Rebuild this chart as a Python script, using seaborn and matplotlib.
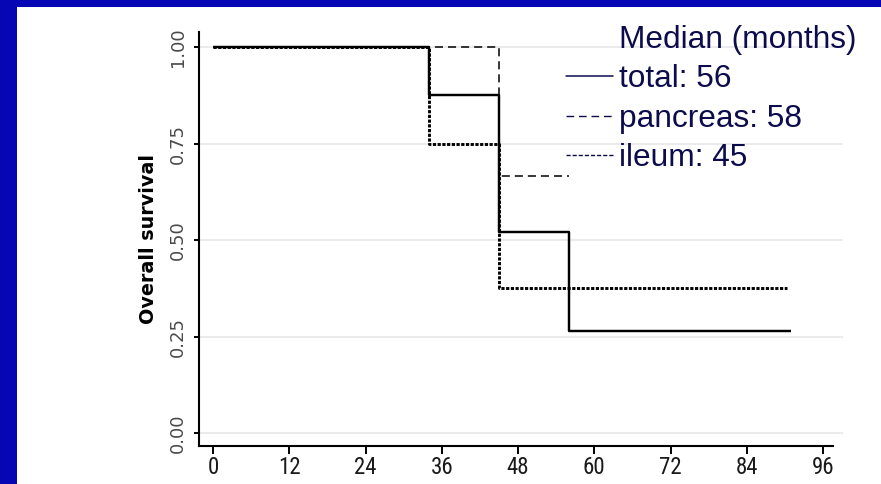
import numpy as np
import pandas as pd
import matplotlib
matplotlib.use("Agg")
import matplotlib.pyplot as plt
import seaborn as sns
from matplotlib import font_manager
from matplotlib.lines import Line2D
from matplotlib.patches import Rectangle

# ---- data ----
total_time = [0, 34, 45, 56, 91]
total_surv = [1.0, 0.875, 0.52, 0.266, 0.266]
pancreas_time = [0, 45, 56]
pancreas_surv = [1.0, 0.667, 0.667]
ileum_time = [0, 34, 45, 90.3]
ileum_surv = [1.0, 0.75, 0.375, 0.375]

x_ticks = [0, 12, 24, 36, 48, 60, 72, 84, 96]
y_ticks = [0.00, 0.25, 0.50, 0.75, 1.00]
y_tick_labels = ["0.00", "0.25", "0.50", "0.75", "1.00"]
legend_title = "Median (months)"
legend_labels = ["total: 56", "pancreas: 58", "ileum: 45"]
y_label = "Overall survival"

sns.set_theme(style="white")
names = {f.name for f in font_manager.fontManager.ttflist}
narrow = next((n for n in ["Liberation Sans Narrow", "Roboto Condensed",
                           "Open Sans Condensed", "DejaVu Sans Condensed"] if n in names),
              "Liberation Sans")
plt.rcParams["font.family"] = ["Liberation Sans", "DejaVu Sans"]
plt.rcParams["lines.scale_dashes"] = False

W, H = 881, 484
fig = plt.figure(figsize=(W / 100, H / 100), dpi=100, facecolor="#0606b4")
fig.patches.append(Rectangle((17 / W, 0), (W - 17) / W, (H - 7) / H,
                             transform=fig.transFigure, facecolor="white",
                             edgecolor="none", zorder=-5))

# axes: x 199..843 px, y 32..446 px (from top)
ax = fig.add_axes([199 / W, (H - 446) / H, (843 - 199) / W, (446 - 32) / H])
ax.set_facecolor("none")
ax.set_zorder(2)

df = pd.concat([
    pd.DataFrame({"time": ileum_time, "surv": ileum_surv, "group": "ileum"}),
    pd.DataFrame({"time": pancreas_time, "surv": pancreas_surv, "group": "pancreas"}),
    pd.DataFrame({"time": total_time, "surv": total_surv, "group": "total"}),
], ignore_index=True)

styles = {
    "ileum": dict(lw=2.1, dashes=(2.3, 1.1)),
    "pancreas": dict(lw=1.1, dashes=(5.8, 3.6)),
    "total": dict(lw=1.75, dashes=None),
}
for g in ["ileum", "pancreas", "total"]:
    sub = df[df["group"] == g]
    sns.lineplot(data=sub, x="time", y="surv", ax=ax, color="black",
                 drawstyle="steps-post", estimator=None, sort=False,
                 linewidth=styles[g]["lw"], legend=False)
    line = ax.lines[-1]
    if styles[g]["dashes"] is not None:
        line.set_dashes(styles[g]["dashes"])
    line.set_solid_capstyle("butt")
    line.set_dash_capstyle("butt")

x_per = (823 - 213) / 96.0
ax.set_xlim((199 - 213) / x_per, (843 - 213) / x_per)
y_per = (433.3 - 47) / 1.0
ax.set_ylim((433.3 - 446) / y_per, (433.3 - 32) / y_per)

for t in y_ticks:
    ax.axhline(t, color="#ebebeb", lw=1.4, zorder=0)

ax.set_xticks(x_ticks)
ax.set_xticklabels([str(v) for v in x_ticks])
ax.set_yticks(y_ticks)
ax.set_yticklabels(y_tick_labels)
ax.tick_params(axis="x", direction="out", length=6.0, width=1.4, color="black",
               pad=1.5, bottom=True, labelcolor="#1a1a1a",
               labelsize=16.5, labelfontfamily=narrow)
ax.tick_params(axis="y", direction="out", length=3.6, width=1.4, color="black",
               pad=5, left=True, labelcolor="#4a4a4a", labelrotation=90,
               labelsize=13, labelfontfamily="DejaVu Sans")
for lab in ax.get_yticklabels():
    lab.set_va("center")

for s in ["top", "right"]:
    ax.spines[s].set_visible(False)
for s in ["left", "bottom"]:
    ax.spines[s].set_color("black")
    ax.spines[s].set_linewidth(1.5)
ax.spines["bottom"].set_bounds((199 - 213) / x_per, (833 - 213) / x_per)

ax.set_xlabel("")
ax.set_ylabel(y_label, family=["DejaVu Sans"], fontweight="bold",
              fontsize=13.8, color="black")
ax.yaxis.set_label_coords((157.5 - 199) / (843 - 199), 0.5)

navy = "#0c0c4c"
handles = [
    Line2D([], [], color="none"),
    Line2D([], [], color=navy, lw=1.1),
    Line2D([], [], color=navy, lw=1.0, dashes=(5.5, 3.5)),
    Line2D([], [], color=navy, lw=1.0, dashes=(3.0, 1.4)),
]
leg = fig.legend(handles, [legend_title] + legend_labels,
                 loc="upper left", bbox_to_anchor=(566 / W, 1 - 25 / H),
                 bbox_transform=fig.transFigure, frameon=False,
                 borderpad=0, borderaxespad=0, handlelength=1.49,
                 handletextpad=0.19, labelspacing=0.3,
                 prop={"family": "Liberation Sans", "size": 22.75})
leg.set_zorder(5)
for t in leg.get_texts():
    t.set_color(navy)

fig.savefig("out.png", dpi=100, facecolor=fig.get_facecolor())
